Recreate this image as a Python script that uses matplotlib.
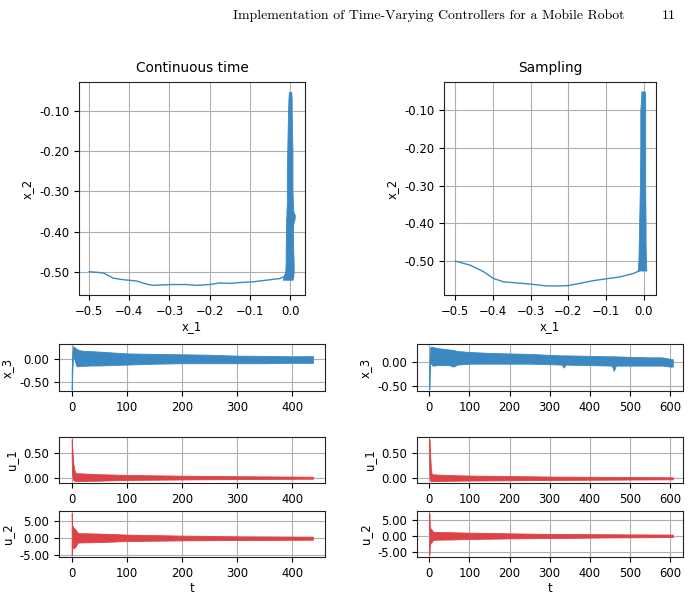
import matplotlib
matplotlib.use("Agg")
import matplotlib.pyplot as plt
from matplotlib.ticker import MultipleLocator, FormatStrFormatter

# ---------------- data ----------------
header_text = "Implementation of Time-Varying Controllers for a Mobile Robot"
page_number = "11"
col_titles = ["Continuous time", "Sampling"]

# phase plane, continuous time: approach path and oscillation band near x_1 = 0
path_x1_ct = [-0.5, -0.465, -0.44, -0.415, -0.382, -0.357, -0.34, -0.299, -0.257, -0.233,
              -0.2, -0.175, -0.15, -0.125, -0.091, -0.058, -0.025, -0.012, 0.0]
path_x2_ct = [-0.500, -0.503, -0.516, -0.520, -0.523, -0.531, -0.534, -0.532, -0.532, -0.534,
              -0.532, -0.528, -0.529, -0.527, -0.525, -0.521, -0.517, -0.511, -0.505]
band_x2_ct = [-0.520, -0.512, -0.500, -0.480, -0.450, -0.400, -0.380, -0.370, -0.360, -0.350,
              -0.330, -0.300, -0.250, -0.200, -0.150, -0.100, -0.070, -0.053]
band_lo_ct = [-0.018, -0.016, -0.012, -0.011, -0.011, -0.010, -0.010, -0.010, -0.009, -0.009,
              -0.008, -0.008, -0.008, -0.007, -0.006, -0.005, -0.004, -0.003]
band_hi_ct = [0.006, 0.008, 0.009, 0.009, 0.008, 0.007, 0.008, 0.011, 0.012, 0.008,
              0.007, 0.006, 0.006, 0.006, 0.005, 0.004, 0.004, 0.003]

# phase plane, sampling
path_x1_s = [-0.5, -0.46, -0.425, -0.399, -0.372, -0.337, -0.302, -0.257, -0.222, -0.2,
             -0.169, -0.134, -0.099, -0.063, -0.028, -0.011]
path_x2_s = [-0.500, -0.511, -0.528, -0.546, -0.555, -0.558, -0.561, -0.566, -0.566, -0.565,
             -0.559, -0.552, -0.547, -0.542, -0.533, -0.526]
band_x2_s = [-0.525, -0.500, -0.450, -0.400, -0.300, -0.200, -0.100, -0.070, -0.050]
band_lo_s = [-0.016, -0.014, -0.013, -0.012, -0.010, -0.009, -0.009, -0.007, -0.006]
band_hi_s = [0.007, 0.006, 0.005, 0.005, 0.004, 0.004, 0.004, 0.004, 0.003]

# x_3 envelopes
t_x3_ct = [0, 0.5, 1, 2, 3, 5, 8, 10, 15, 20, 35, 50, 75, 100, 150, 200, 250, 300, 350, 400, 437]
x3_hi_ct = [-0.30, -0.05, 0.10, 0.25, 0.29, 0.27, 0.24, 0.22, 0.20, 0.19, 0.18, 0.17, 0.15,
            0.13, 0.12, 0.11, 0.10, 0.08, 0.075, 0.065, 0.07]
x3_lo_ct = [-0.68, -0.50, -0.30, -0.05, 0.05, 0.00, -0.14, -0.16, -0.15, -0.15, -0.14, -0.14,
            -0.13, -0.12, -0.10, -0.09, -0.09, -0.09, -0.09, -0.08, -0.08]

t_x3_s = [0, 0.5, 1, 2, 4, 6, 10, 20, 50, 60, 70, 100, 150, 200, 250, 300, 330, 335, 340,
          400, 455, 460, 465, 500, 550, 580, 600, 607]
x3_hi_s = [-0.20, 0.0, 0.15, 0.28, 0.31, 0.31, 0.30, 0.28, 0.25, 0.24, 0.22, 0.20, 0.18, 0.17,
           0.16, 0.14, 0.13, 0.13, 0.13, 0.12, 0.11, 0.11, 0.11, 0.10, 0.09, 0.09, 0.06, 0.05]
x3_lo_s = [-0.56, -0.40, -0.20, -0.05, 0.0, -0.07, -0.08, -0.07, -0.07, -0.10, -0.06, -0.04,
           -0.04, -0.04, -0.04, -0.05, -0.06, -0.12, -0.06, -0.07, -0.08, -0.19, -0.08, -0.08,
           -0.08, -0.08, -0.10, -0.10]

# u_1 envelopes
t_u1_ct = [0, 0.5, 1, 2, 3, 5, 7, 10, 20, 50, 100, 200, 300, 437]
u1_hi_ct = [0.77, 0.70, 0.60, 0.42, 0.28, 0.15, 0.10, 0.09, 0.085, 0.07, 0.055, 0.04, 0.03, 0.02]
u1_lo_ct = [0.40, 0.20, 0.05, -0.03, -0.05, -0.06, -0.065, -0.065, -0.065, -0.06, -0.045,
            -0.035, -0.027, -0.02]

t_u1_s = [0, 0.5, 1, 2, 3, 4, 6, 8, 20, 50, 100, 200, 300, 450, 607]
u1_hi_s = [0.79, 0.75, 0.65, 0.50, 0.35, 0.20, 0.09, 0.08, 0.075, 0.065, 0.055, 0.045, 0.035,
           0.028, 0.02]
u1_lo_s = [0.30, 0.10, 0.0, -0.04, -0.05, -0.055, -0.055, -0.055, -0.055, -0.05, -0.045,
           -0.04, -0.033, -0.027, -0.02]

# u_2 envelopes
t_u2_ct = [0, 0.5, 1, 2, 3, 5, 7, 9, 10, 15, 20, 50, 100, 200, 300, 437]
u2_hi_ct = [7.3, 5.0, 3.0, 3.5, 3.0, 2.8, 2.5, 2.0, 1.6, 1.4, 1.4, 1.3, 1.0, 0.7, 0.5, 0.4]
u2_lo_ct = [-4.97, -4.0, -2.5, -3.0, -3.0, -2.8, -2.5, -2.0, -1.4, -1.3, -1.3, -1.2, -0.9,
            -0.7, -0.6, -0.5]

t_u2_s = [0, 0.5, 1, 2, 4, 6, 8, 10, 20, 50, 100, 200, 300, 450, 607]
u2_hi_s = [7.2, 5.0, 3.0, 2.5, 2.2, 2.0, 1.5, 1.3, 1.2, 1.15, 1.0, 0.8, 0.6, 0.5, 0.4]
u2_lo_s = [-6.0, -4.5, -3.0, -2.5, -2.2, -2.0, -1.5, -1.3, -1.2, -1.15, -1.0, -0.8, -0.7,
           -0.5, -0.4]

# ---------------- styling / layout ----------------
BLUE = "#3b88c2"
RED = "#dc4347"
W, H = 695, 596
plt.rcParams["font.family"] = "DejaVu Sans"
plt.rcParams["font.size"] = 8.4
plt.rcParams["axes.edgecolor"] = "#222222"

fig = plt.figure(figsize=(W / 100, H / 100), dpi=100)


def rect(x0, y0, x1, y1):
    return [x0 / W, 1 - y1 / H, (x1 - x0) / W, (y1 - y0) / H]


cols = [(59, 325), (417, 683)]
rows = {"phase": (82, 295), "x3": (344, 391), "u1": (437, 483), "u2": (511, 557)}

phase_data = [
    (path_x1_ct, path_x2_ct, band_x2_ct, band_lo_ct, band_hi_ct, (-0.525, 0.037), (-0.558, -0.028)),
    (path_x1_s, path_x2_s, band_x2_s, band_lo_s, band_hi_s, (-0.529, 0.032), (-0.590, -0.025)),
]
x3_data = [(t_x3_ct, x3_lo_ct, x3_hi_ct, (-0.71, 0.34)), (t_x3_s, x3_lo_s, x3_hi_s, (-0.60, 0.363))]
u1_data = [(t_u1_ct, u1_lo_ct, u1_hi_ct, (-0.106, 0.814)), (t_u1_s, u1_lo_s, u1_hi_s, (-0.094, 0.826))]
u2_data = [(t_u2_ct, u2_lo_ct, u2_hi_ct, (-5.59, 7.94)), (t_u2_s, u2_lo_s, u2_hi_s, (-6.67, 7.84))]
tlims = [(-23, 459), (-30.6, 632.5)]

for c, (cx0, cx1) in enumerate(cols):
    # phase plane
    px, py, by, blo, bhi, xl, yl = phase_data[c]
    ax = fig.add_axes(rect(cx0, rows["phase"][0], cx1, rows["phase"][1]))
    ax.plot(px, py, color=BLUE, lw=1.0)
    ax.fill_betweenx(by, blo, bhi, color=BLUE, lw=0.6, edgecolor=BLUE)
    ax.set_xlim(*xl)
    ax.set_ylim(*yl)
    ax.set_aspect("equal", adjustable="box", anchor="C")
    ax.xaxis.set_major_locator(MultipleLocator(0.1))
    ax.yaxis.set_major_locator(MultipleLocator(0.1))
    ax.yaxis.set_major_formatter(FormatStrFormatter("%.2f"))
    ax.grid(True)
    ax.set_axisbelow(True)
    ax.set_xlabel("x_1", labelpad=1.5)
    ax.set_ylabel("x_2")
    ax.set_title(col_titles[c], fontsize=9.9, pad=7)

    for key, data, col, lab, step in [("x3", x3_data, BLUE, "x_3", 0.5),
                                      ("u1", u1_data, RED, "u_1", 0.5),
                                      ("u2", u2_data, RED, "u_2", 5.0)]:
        t, lo, hi, ylim = data[c]
        ax = fig.add_axes(rect(cx0, rows[key][0], cx1, rows[key][1]))
        ax.fill_between(t, lo, hi, color=col, lw=0.6, edgecolor=col)
        ax.set_xlim(*tlims[c])
        ax.set_ylim(*ylim)
        ax.xaxis.set_major_locator(MultipleLocator(100))
        ax.yaxis.set_major_locator(MultipleLocator(step))
        ax.yaxis.set_major_formatter(FormatStrFormatter("%.2f"))
        ax.grid(True)
        ax.set_axisbelow(True)
        ax.set_ylabel(lab)
        if key == "u2":
            ax.set_xlabel("t", labelpad=1.5)

# running header, sized so that it spans the same width as in the reference
hdr = fig.text(233 / W, 1 - 19 / H, header_text, family="cmr10", fontsize=10,
               ha="left", va="baseline")
pg = fig.text(676 / W, 1 - 19 / H, page_number, family="cmr10", fontsize=10,
              ha="right", va="baseline")
renderer = fig.canvas.get_renderer()
wpx = hdr.get_window_extent(renderer).width
fs = 10 * 391.0 / wpx
hdr.set_fontsize(fs)
pg.set_fontsize(fs)

fig.savefig("out.png", dpi=100)
